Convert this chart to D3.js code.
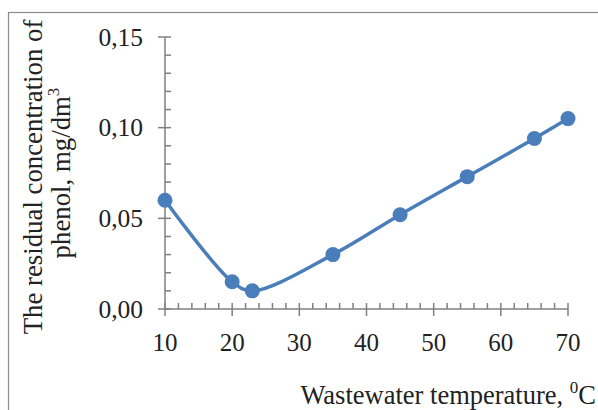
<!DOCTYPE html>
<html><head><meta charset="utf-8">
<script src="https://cdn.jsdelivr.net/npm/d3@7"></script>
<style>body{margin:0;background:#fff}svg{display:block}text{font-family:"Liberation Serif","Times New Roman",serif;fill:#222}</style>
</head><body>
<svg id="c" width="598" height="410"></svg>
<script>
const temperature = [10, 20, 23, 35, 45, 55, 65, 70];
const phenol = [0.060, 0.015, 0.010, 0.030, 0.052, 0.073, 0.094, 0.105];
const xTicks = [10, 20, 30, 40, 50, 60, 70];
const yTicks = [0, 0.05, 0.10, 0.15];
const yTitle = ["The residual concentration of", "phenol, mg/dm"];
const xTitle = "Wastewater temperature, ";

const svg = d3.select("#c");
svg.append("rect").attr("x", 8.5).attr("y", 12.5).attr("width", 620).attr("height", 420)
  .attr("fill", "#fff").attr("stroke", "#8c8c8c").attr("stroke-width", 1.2);

const x = d3.scaleLinear().domain([10, 70]).range([165, 568]);
const y = d3.scaleLinear().domain([0, 0.15]).range([309, 37]);
const axisCol = "#808080";

// y axis
const gy = svg.append("g");
gy.append("line").attr("x1", x(10)).attr("x2", x(10)).attr("y1", y(0)).attr("y2", y(0.15))
  .attr("stroke", axisCol).attr("stroke-width", 1.5);
d3.range(0, 0.1501, 0.01).forEach(v => {
  const major = Math.abs(v / 0.05 - Math.round(v / 0.05)) < 1e-6;
  gy.append("line").attr("x1", x(10) - (major ? 7 : 0)).attr("x2", x(10) + 6)
    .attr("y1", y(v)).attr("y2", y(v)).attr("stroke", axisCol).attr("stroke-width", 1.5);
});
gy.selectAll("text.yt").data(yTicks).join("text").attr("class", "yt")
  .attr("x", x(10) - 22).attr("y", d => y(d)).attr("dy", "0.34em").attr("text-anchor", "end")
  .attr("font-size", 25.5).text(d => d3.format(".2f")(d).replace(".", ","));

// x axis
const gx = svg.append("g");
gx.append("line").attr("x1", x(10)).attr("x2", x(70)).attr("y1", y(0)).attr("y2", y(0))
  .attr("stroke", axisCol).attr("stroke-width", 1.5);
d3.range(10, 70.01, 2).forEach(v => {
  const major = v % 10 === 0;
  gx.append("line").attr("x1", x(v)).attr("x2", x(v))
    .attr("y1", y(0) - 6).attr("y2", y(0) + (major ? 7 : 0)).attr("stroke", axisCol).attr("stroke-width", 1.5);
});
gx.selectAll("text.xt").data(xTicks).join("text").attr("class", "xt")
  .attr("x", d => x(d)).attr("y", 351).attr("text-anchor", "middle")
  .attr("font-size", 25).text(d => d);

// titles
const yt = svg.append("text").attr("transform", "translate(42,177) rotate(-90)")
  .attr("text-anchor", "middle").attr("font-size", 26.8);
yt.text(yTitle[0]);
const yt2 = svg.append("text").attr("transform", "translate(70,173) rotate(-90)")
  .attr("text-anchor", "middle").attr("font-size", 26.8);
yt2.append("tspan").text(yTitle[1]);
yt2.append("tspan").attr("font-size", 17).attr("dy", -11).text("3");

const xt = svg.append("text").attr("x", 596).attr("y", 404).attr("text-anchor", "end").attr("font-size", 26.5);
xt.append("tspan").text(xTitle);
xt.append("tspan").attr("font-size", 17).attr("dy", -11).text("0");
xt.append("tspan").attr("dy", 11).text("C");

// series
const data = temperature.map((t, i) => [t, phenol[i]]);
const line = d3.line().x(d => x(d[0])).y(d => y(d[1])).curve(d3.curveCatmullRom.alpha(0.5));
svg.append("path").attr("d", line(data)).attr("fill", "none").attr("stroke", "#4a7ebb").attr("stroke-width", 3.5);
svg.selectAll("circle.p").data(data).join("circle").attr("class", "p")
  .attr("cx", d => x(d[0])).attr("cy", d => y(d[1])).attr("r", 7.5).attr("fill", "#4a7ebb");
</script>
</body></html>
